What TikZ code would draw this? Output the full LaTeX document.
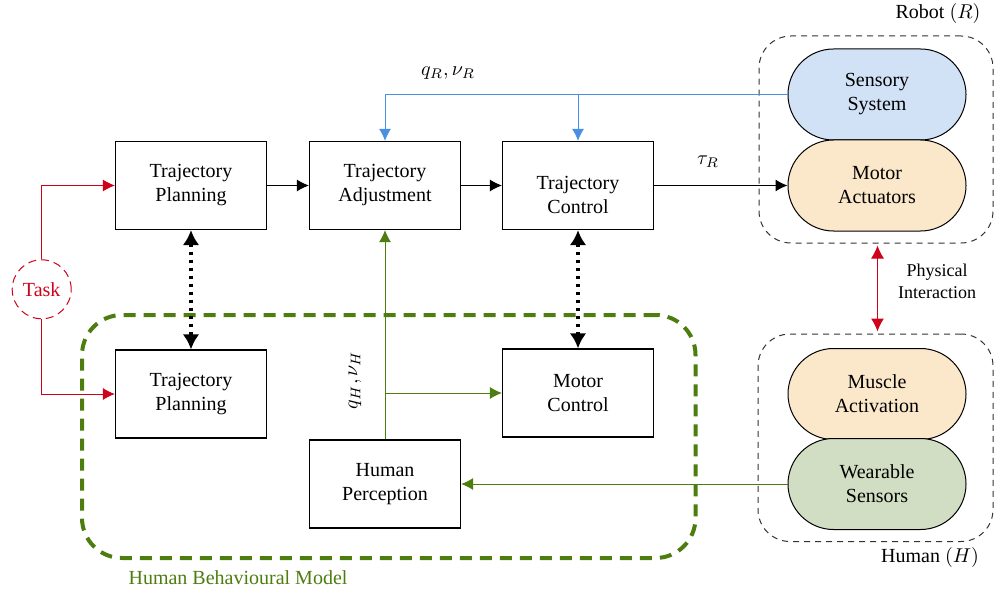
\documentclass[tikz,border=0pt]{standalone}
\usepackage{fontspec}
\setmainfont{Liberation Serif}
\usetikzlibrary{arrows.meta,shapes.misc}

\definecolor{sensblue}{RGB}{210,226,246}
\definecolor{actorange}{RGB}{251,232,202}
\definecolor{weargreen}{RGB}{210,222,196}
\definecolor{linkblue}{RGB}{74,144,226}
\definecolor{taskred}{RGB}{208,2,27}
\definecolor{hbmgreen}{RGB}{77,124,15}

\tikzset{
  block/.style={draw, line width=0.6pt, minimum width=75.5pt, minimum height=44pt, align=center, inner sep=0pt},
  pill/.style={draw, line width=0.5pt, rounded rectangle, minimum width=89pt, minimum height=45.5pt, align=center, inner sep=0pt},
  group/.style={draw=black!80, dash pattern=on 3pt off 2.5pt, line width=0.5pt, rounded corners=16pt, inner sep=0pt},
  dotarrow/.style={line width=1.6pt, dash pattern=on 1.6pt off 2.4pt, {Latex[length=7.5pt,width=8.3pt]}-{Latex[length=7.5pt,width=8.3pt]}},
}

\begin{document}
\begin{tikzpicture}[x=0.5pt, y=-0.5pt, >={Latex[length=6pt,width=6pt]}, line width=0.5pt]
    \useasboundingbox (0,0) rectangle (994,593);

    % Gruppi tratteggiati (robot, umano, modello)
    \node[group, minimum width=117pt, minimum height=103.5pt] (robot) at (876,139.5) {};
    \node[group, minimum width=117.5pt, minimum height=103.75pt] (human) at (875.5,437.75) {};
    \node[draw=hbmgreen, line width=2pt, dash pattern=on 6pt off 4pt, rounded corners=20pt,
          minimum width=306.75pt, minimum height=121.5pt, inner sep=0pt] (hbm) at (388.75,436.5) {};

    % Blocchi principali
    \node[block] (tp1) at (191,185.5) {Trajectory\\Planning};
    \node[block] (adj) at (385,185.5) {Trajectory\\Adjustment};
    \node[block, label={[align=center, yshift=-4.5pt]center:Trajectory\\Control}] (ctrl) at (578,185.5) {};
    \node[block] (tp2) at (191,394) {Trajectory\\Planning};
    \node[block] (mctrl) at (578,393) {Motor\\Control};
    \node[block] (perc) at (385,484) {Human\\Perception};

    % Blocchi arrotondati a destra
    \node[pill, fill=sensblue] (sens) at (877,94.5) {Sensory\\System};
    \node[pill, fill=actorange] (act) at (877,185.5) {Motor\\Actuators};
    \node[pill, fill=actorange] (musc) at (877,394) {Muscle\\Activation};
    \node[pill, fill=weargreen] (wear) at (877,484) {Wearable\\Sensors};

    % Task
    \node[circle, draw=taskred, dash pattern=on 4pt off 2.5pt, text=taskred, minimum size=29.5pt, inner sep=0pt] (task) at (41.7,289.3) {Task};

    % Etichette
    \node (robotlbl) at (938,14) {Robot $(R)$};
    \node (humanlbl) at (930,557) {Human $(H)$};
    \node[text=hbmgreen] (hbmlbl) at (238,578) {Human Behavioural Model};
    \node[font=\small, align=center] (physlbl) at (937,281) {Physical\\Interaction};
    \node (qr) at (448,73) {$q_R, \nu_R$};
    \node (tau) at (708,162) {$\tau_R$};
    \node[rotate=90] (qh) at (355,380) {$q_H, \nu_H$};

    % Catena robot
    \draw[->] (tp1) -- (adj);
    \draw[->] (adj) -- (ctrl);
    \draw[->] (ctrl) -- (act);

    % Retroazione sensori
    \draw[linkblue, ->] (sens.west) -| (adj.north);
    \draw[linkblue, ->] (ctrl.north |- sens.west) -- (ctrl.north);

    % Percorso umano
    \draw[hbmgreen, ->] (wear.west) -- (perc.east);
    \draw[hbmgreen, ->] (perc.north) -- (adj.south);
    \draw[hbmgreen, ->] (perc.north |- mctrl.west) -- (mctrl.west);

    % Task verso le pianificazioni
    \draw[taskred, ->] (task.north) |- (tp1.west);
    \draw[taskred, ->] (task.south) |- (tp2.west);

    % Frecce punteggiate
    \draw[dotarrow] (tp1.south) -- (tp2.north);
    \draw[dotarrow] (ctrl.south) -- (mctrl.north);

    % Interazione fisica
    \draw[taskred, {Latex[length=6.5pt,width=6.5pt]}-{Latex[length=6.5pt,width=6.5pt]}, shorten <=1pt, shorten >=1pt]
        (robot.south) ++(1.5,0) coordinate (phystop) (phystop) -- (phystop |- human.north);

\end{tikzpicture}
\end{document}
